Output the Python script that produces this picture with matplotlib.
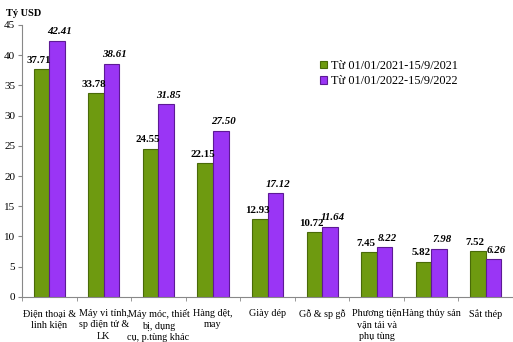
import matplotlib
matplotlib.use("Agg")
import matplotlib.pyplot as plt
import numpy as np

categories = [
    "Điện thoại &\nlinh kiện",
    "Máy vi tính,\nsp điện tử &\nLK",
    "Máy móc, thiết\nbị, dụng\ncụ, p.tùng khác",
    "Hàng dệt,\nmay",
    "Giày dép",
    "Gỗ & sp gỗ",
    "Phương tiện\nvận tải và\nphụ tùng",
    "Hàng thủy sản",
    "Sắt thép",
]
values_2021 = [37.71, 33.78, 24.55, 22.15, 12.93, 10.72, 7.45, 5.82, 7.52]
values_2022 = [42.41, 38.61, 31.85, 27.50, 17.12, 11.64, 8.22, 7.98, 6.26]
series_labels = ["Từ 01/01/2021-15/9/2021", "Từ 01/01/2022-15/9/2022"]
y_ticks = [0, 5, 10, 15, 20, 25, 30, 35, 40, 45]

plt.rcParams["font.family"] = ["Liberation Serif", "DejaVu Serif"]

fig = plt.figure(figsize=(5.13, 3.42), dpi=100)
ax = fig.add_axes([0.043, 0.132, 0.957, 0.795])

x = np.arange(len(categories))
w = 0.285
green, green_edge = "#6e9a10", "#496a08"
purple, purple_edge = "#9a35f5", "#5d1a95"

b1 = ax.bar(x - w / 2, values_2021, w, color=green, edgecolor=green_edge,
            linewidth=0.8, label=series_labels[0])
b2 = ax.bar(x + w / 2, values_2022, w, color=purple, edgecolor=purple_edge,
            linewidth=0.8, label=series_labels[1])

for xi, v in zip(x, values_2021):
    ax.text(xi - w / 2 - 0.05, v + 0.7, f"{v:.2f}", ha="center", va="bottom",
            fontsize=7.8, fontweight="bold")
for xi, v in zip(x, values_2022):
    ax.text(xi + w / 2 + 0.05, v + 0.7, f"{v:.2f}", ha="center", va="bottom",
            fontsize=7.8, fontweight="bold", style="italic")

ax.set_xlim(-0.5, len(categories) - 0.5)
ax.set_ylim(0, 45)
ax.set_yticks(y_ticks)
ax.tick_params(axis="y", labelsize=8, length=3, color="#888888", pad=2)
ax.set_xticks(x)
ax.set_xticklabels(categories, fontsize=7.3, linespacing=1.3)
ax.tick_params(axis="x", length=0, pad=9)
ax.set_xticks(np.arange(len(categories) + 1) - 0.5, minor=True)
ax.tick_params(axis="x", which="minor", length=3, color="#888888")

for s in ["top", "right"]:
    ax.spines[s].set_visible(False)
for s in ["left", "bottom"]:
    ax.spines[s].set_color("#888888")
    ax.spines[s].set_linewidth(0.8)

fig.text(0.012, 0.975, "Tỷ USD", fontsize=7.5, fontweight="bold", va="top")

fig.legend(handles=[b1, b2], loc="upper left", bbox_to_anchor=(0.615, 0.84),
           frameon=False, fontsize=8.8, handlelength=0.55, handleheight=0.55,
           handletextpad=0.3, labelspacing=0.3, borderaxespad=0)

fig.savefig("out.png", dpi=100)
